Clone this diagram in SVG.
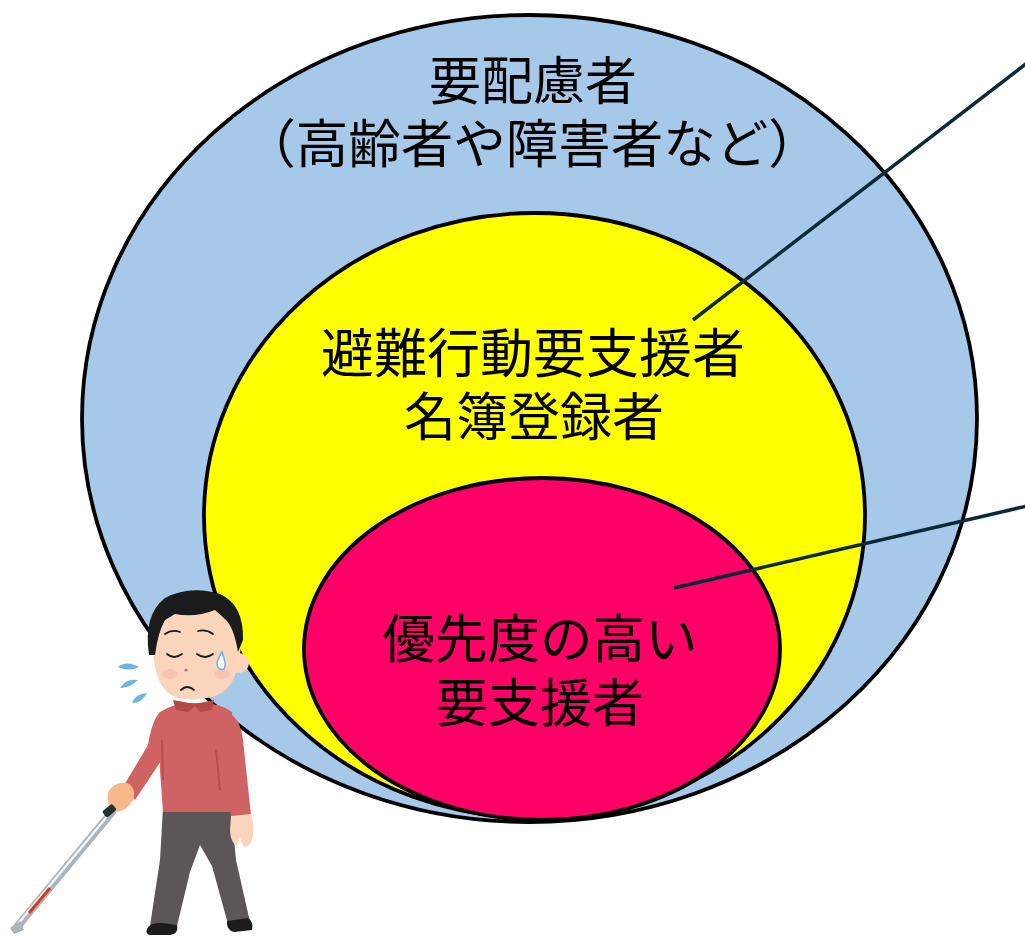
<svg xmlns="http://www.w3.org/2000/svg" width="1025" height="936" viewBox="0 0 1025 936">
  <style>
    .ring { stroke: #000; stroke-width: 3.8; }
    .label { font-family: "Liberation Sans", "Noto Sans CJK JP", sans-serif; font-size: 52px; fill: #000; text-anchor: middle; }
    .leader { stroke: #0b2a38; stroke-width: 3.5; fill: none; stroke-linecap: butt; }
    .skin { fill: #fbd6bd; }
    .shirt { fill: #cf6262; }
  </style>
  <rect width="1025" height="936" fill="#fff"/>

  <!-- outer set: people who need consideration -->
  <g id="node-outer">
    <ellipse class="ring" cx="529.5" cy="418.5" rx="447.5" ry="403.5" fill="#a6c9ea"/>
    <text class="label"><tspan x="533" y="100">要配慮者</tspan><tspan x="532" y="163" font-size="52.5">（高齢者や障害者など）</tspan></text>
  </g>

  <!-- middle set: registered evacuation-support list -->
  <g id="node-middle">
    <ellipse class="ring" cx="534.5" cy="515.5" rx="330.5" ry="302.5" fill="#ffff00"/>
    <text class="label"><tspan x="533" y="373" font-size="53">避難行動要支援者</tspan><tspan x="534" y="436">名簿登録者</tspan></text>
  </g>

  <!-- inner set: high priority -->
  <g id="node-inner">
    <ellipse class="ring" cx="542" cy="649" rx="238" ry="171" fill="#ff0066"/>
    <text class="label"><tspan x="540" y="658" font-size="52.5">優先度の高い</tspan><tspan x="540" y="722">要支援者</tspan></text>
  </g>

  <!-- leader lines -->
  <g id="connectors">
    <line class="leader" x1="693" y1="320" x2="1027" y2="63"/>
    <line class="leader" x1="674" y1="588" x2="1027" y2="506"/>
  </g>

  <!-- person walking with a white cane -->
  <g id="person">
    <!-- cane -->
    <line x1="112" y1="812" x2="17" y2="927" stroke="#aab4ba" stroke-width="8" stroke-linecap="round"/>
    <line x1="110" y1="813" x2="17" y2="925" stroke="#f4f6f7" stroke-width="2.5"/>
    <line x1="50" y1="888" x2="29" y2="913" stroke="#d23a2a" stroke-width="3"/>
    <path d="M10,928 L20,921 L24,930 L14,934 Z" fill="#aab4ba"/>
    <!-- legs -->
    <path d="M163,808 L231,808 L236,860 L250,922 L228,924 L212,866 L200,845 L190,872 L177,926 L150,926 L160,860 Z" fill="#5c5659"/>
    <!-- shoes -->
    <path d="M147,929 Q150,922 162,923 L177,925 Q179,934 170,935 L150,935 Q145,934 147,929 Z" fill="#1c1c1c"/>
    <path d="M227,921 L248,918 Q254,922 252,930 L234,932 Q226,930 227,921 Z" fill="#1c1c1c"/>
    <!-- right arm and hand -->
    <path d="M225,712 Q240,715 243,740 L251,815 L231,818 L225,760 Z" class="shirt"/>
    <path d="M231,816 L251,814 Q256,830 251,843 Q247,848 243,846 L240,838 L236,846 Q230,840 230,830 Z" class="skin"/>
    <!-- torso -->
    <path d="M160,712 Q175,702 195,703 Q220,702 232,712 L236,770 L232,812 L163,812 L160,770 Z" class="shirt"/>
    <line x1="216" y1="750" x2="220" y2="790" stroke="#bb4d50" stroke-width="2"/>
    <!-- left arm reaching down to the cane -->
    <path d="M160,712 Q152,720 148,745 L123,787 L135,800 L163,758 Z" class="shirt"/>
    <line x1="162" y1="740" x2="163" y2="780" stroke="#bb4d50" stroke-width="2"/>
    <path d="M108,792 Q115,781 127,783 Q137,788 133,800 Q126,812 115,812 Q106,806 108,792 Z" fill="#f7b88a"/>
    <rect x="103" y="807" width="13" height="8" rx="2" transform="rotate(-40 109 811)" fill="#24322e"/>
    <!-- collar -->
    <path d="M173,700 L195,704 L214,700 L212,710 L200,712 L195,706 L188,712 L176,710 Z" fill="#b84848"/>
    <!-- head -->
    <circle cx="239" cy="663" r="10" class="skin"/>
    <path d="M153,630 Q150,690 178,698 Q195,702 215,696 Q240,688 241,640 Q238,608 200,603 Q158,603 153,630 Z" class="skin"/>
    <ellipse cx="170" cy="674" rx="8" ry="5" fill="#f7b7a8" opacity="0.6"/>
    <ellipse cx="222" cy="674" rx="8" ry="5" fill="#f7b7a8" opacity="0.6"/>
    <!-- hair -->
    <path d="M149,655 Q143,615 165,598 Q190,585 220,594 Q244,605 243,640 L238,652 Q234,628 226,620 L215,610 Q195,618 175,614 L165,620 Q158,632 155,655 Z" fill="#1b1b1b"/>
    <!-- brows, closed eyes, nose, mouth -->
    <g fill="none" stroke="#1b1b1b" stroke-width="1.8" stroke-linecap="round">
      <path d="M165,634 Q172,629 180,632"/>
      <path d="M198,631 Q206,629 213,634"/>
      <path d="M167,654 Q174,660 182,654"/>
      <path d="M197,654 Q205,660 213,654"/>
      <path d="M181,690 Q187,684 194,690"/>
    </g>
    <circle cx="186" cy="670" r="1.6" fill="#d06a6a"/>
    <!-- sweat drop -->
    <path d="M222,652 Q216,662 217,665 Q219,671 224,669 Q227,665 222,652 Z" fill="#fff" stroke="#6bb4e4" stroke-width="1.5"/>
    <!-- nervous marks -->
    <g fill="#6bb4e4">
      <path d="M118,667 Q126,660 139,667 Q128,672 118,667 Z"/>
      <path d="M120,688 Q126,678 138,680 Q130,688 120,688 Z"/>
      <path d="M132,703 Q135,694 147,693 Q142,703 132,703 Z"/>
    </g>
  </g>
</svg>
